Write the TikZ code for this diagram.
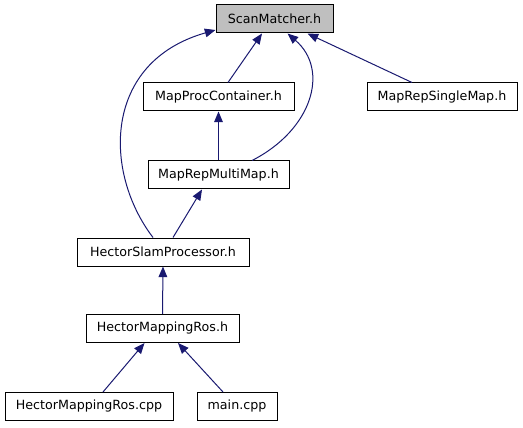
\documentclass[tikz,border=0pt]{standalone}
\usepackage{fontspec}
\setmainfont{DejaVu Sans}
\usetikzlibrary{arrows.meta,calc}
\definecolor{edgecol}{HTML}{191970}
\definecolor{rootfill}{HTML}{BFBFBF}
\tikzset{
  box/.style={draw=black, line width=0.75pt, fill=white, inner sep=0pt, minimum height=21pt, font=\fontsize{9.5pt}{11pt}\selectfont, anchor=center},
  edge/.style={draw=edgecol, line width=0.75pt, -{Triangle[length=8pt,width=6.5pt]}}
}
\begin{document}
\begin{tikzpicture}[x=0.75pt,y=-0.75pt]
\useasboundingbox (0,0) rectangle (523,427);
\node[box, fill=rootfill, minimum width=87.75pt] (sm) at (274.5,19) {ScanMatcher.h};
\node[box, minimum width=113.25pt] (mpc) at (218.5,97) {MapProcContainer.h};
\node[box, minimum width=112.5pt] (mrs) at (442,97) {MapRepSingleMap.h};
\node[box, minimum width=105.75pt] (mrm) at (218.5,175) {MapRepMultiMap.h};
\node[box, minimum width=129pt] (hsp) at (163,252) {HectorSlamProcessor.h};
\node[box, minimum width=114.75pt] (hmr) at (162.5,328.5) {HectorMappingRos.h};
\node[box, minimum width=126pt] (hmrc) at (89,406.5) {HectorMappingRos.cpp};
\node[box, minimum width=60pt] (main) at (237,406.5) {main.cpp};

\draw[edge] ($(mpc.north)+(9.5,0)$) -- ($(sm.south)+(-12.5,0)$);
\draw[edge] ($(hsp.north)+(-10,0)$) .. controls (103,172) and (103,62) .. ($(sm.west)+(0,11)$);
\draw[edge] ($(mrm.north)+(33.5,0)$) .. controls (312,130) and (330,70) .. ($(sm.south)+(13,0)$);
\draw[edge] ($(mrs.north)+(-30,0)$) -- ($(sm.south east)+(-26,0)$);
\draw[edge] (mrm.north) -- (mpc.south);
\draw[edge] ($(hsp.north)+(10,0)$) -- ($(mrm.south)+(-16.5,0)$);
\draw[edge] (hmr.north) -- (hsp.south);
\draw[edge] ($(hmrc.north)+(14,0)$) -- ($(hmr.south)+(-18,0)$);
\draw[edge] ($(main.north)+(-14,0)$) -- ($(hmr.south)+(15.5,0)$);
\end{tikzpicture}
\end{document}
